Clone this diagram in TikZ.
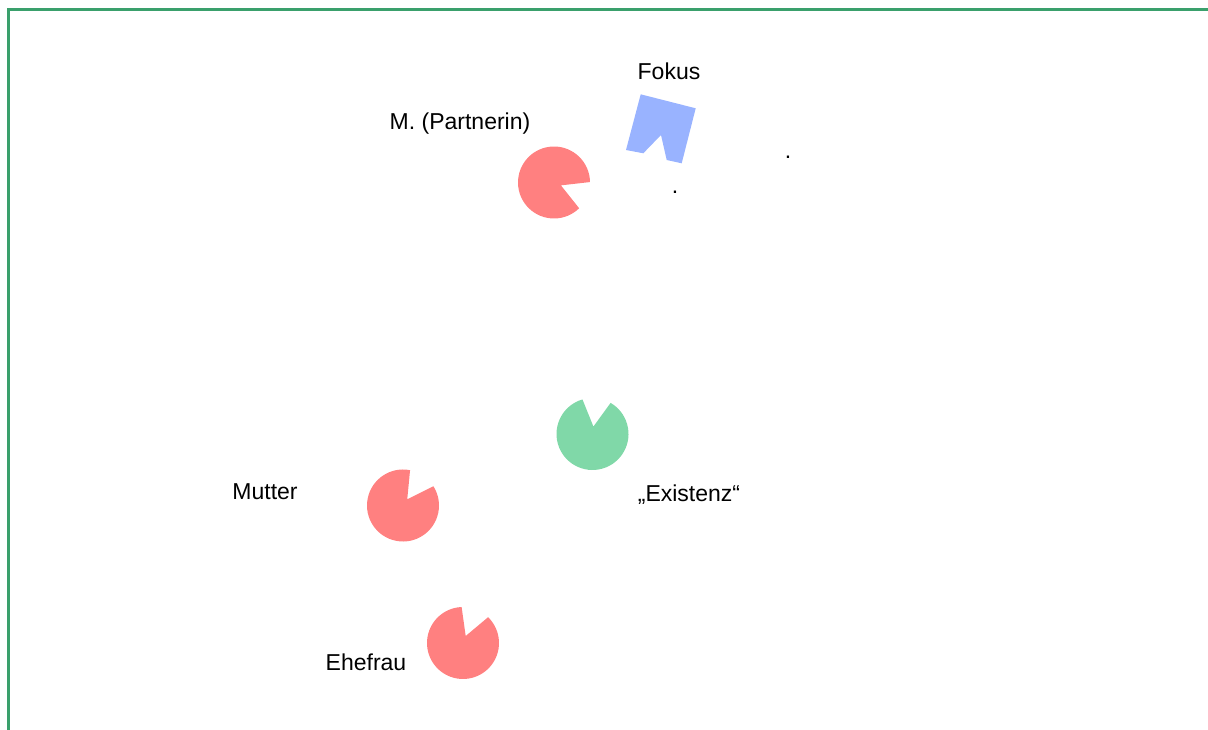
\documentclass[tikz,border=0pt]{standalone}
\usepackage{fontspec}
\setmainfont{Liberation Sans}
\definecolor{womanred}{RGB}{255,128,128}
\definecolor{selfgreen}{RGB}{128,216,168}
\definecolor{focusblue}{RGB}{153,179,255}
\definecolor{framegreen}{RGB}{58,160,108}
\begin{document}
\begin{tikzpicture}[x=1pt,y=1pt,
  lbl/.style={font=\fontsize{23}{27}\selectfont, inner sep=0pt, anchor=base},
  % a figure: disc with a notch, the notch pointing along the x axis
  pics/person/.style={code={
    \fill[#1] (0:7.5) -- (23.2:36) arc[start angle=23.2, end angle=336.8, radius=36] -- cycle;}}]
\useasboundingbox (0,0) rectangle (1208,729);
\clip (0,0) rectangle (1208,729);

% frame
\draw[framegreen, line width=3pt] (8.2,-10) -- (8.2,719.5) -- (1230,719.5);

% figures
\pic[rotate=-22.5] (partner) at (554,546.5) {person=womanred};
\pic[rotate=83]    (self)    at (592.5,295) {person=selfgreen};
\pic[rotate=55.5]  (mother)  at (403,223.5) {person=womanred};
\pic[rotate=69]    (wife)    at (463,86)    {person=womanred};

% focus marker
\fill[focusblue] (640.7,634.7) -- (695.7,620.7) -- (681.7,565.7) -- (666.7,569)
  -- (661,594) -- (643.3,575.7) -- (626,579) -- cycle;

% names
\node[lbl] (fokus)     at (669,649)   {Fokus};
\node[lbl] (partnerin) at (460,599.7) {M. (Partnerin)};
\node[lbl] (mutter)    at (265,229.7) {Mutter};
\node[lbl] (ehefrau)   at (366,59)    {Ehefrau};
\node[lbl] (existenz)  at (689,227)   {„Existenz“};
\node[lbl] (dota)      at (788,570)   {.};
\node[lbl] (dotb)      at (675,535.5) {.};
\end{tikzpicture}
\end{document}
